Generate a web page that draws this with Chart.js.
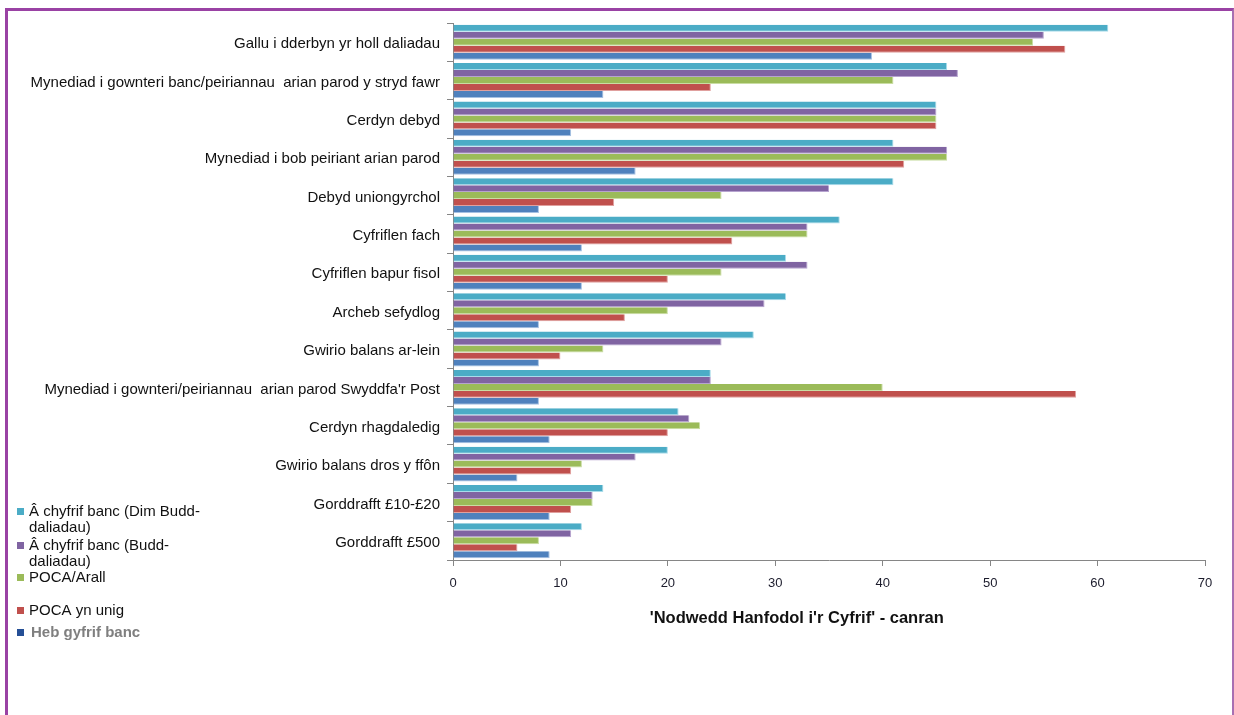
<!DOCTYPE html>
<html>
<head>
<meta charset="utf-8">
<script src="https://cdn.jsdelivr.net/npm/chart.js@4.4.1/dist/chart.umd.min.js"></script>
<style>
  html, body { margin: 0; padding: 0; background: #ffffff; overflow: hidden; }
  #wrap { position: relative; width: 1234px; height: 715px; }
  #frame {
    position: absolute; left: 5px; top: 8px; width: 1229px; height: 740px;
    border-top: 3px solid #9a42a4; border-left: 3px solid #9a42a4; border-right: 2px solid #a86fb2;
    box-sizing: border-box; pointer-events: none;
  }
  canvas { position: absolute; left: 0; top: 0; }
</style>
</head>
<body>
<div id="wrap">
  <canvas id="chart" width="1234" height="715"></canvas>
  <div id="frame"></div>
</div>
<script>
// Account features, top to bottom
const categories = [
  'Gallu i dderbyn yr holl daliadau',
  'Mynediad i gownteri banc/peiriannau  arian parod y stryd fawr',
  'Cerdyn debyd',
  'Mynediad i bob peiriant arian parod',
  'Debyd uniongyrchol',
  'Cyfriflen fach',
  'Cyfriflen bapur fisol',
  'Archeb sefydlog',
  'Gwirio balans ar-lein',
  'Mynediad i gownteri/peiriannau  arian parod Swyddfa\'r Post',
  'Cerdyn rhagdaledig',
  'Gwirio balans dros y ffôn',
  'Gorddrafft £10-£20',
  'Gorddrafft £500'
];

// Percentage saying each feature is essential, per group
const withAccountNoBenefits = [61, 46, 45, 41, 41, 36, 31, 31, 28, 24, 21, 20, 14, 12];
const withAccountBenefits   = [55, 47, 45, 46, 35, 33, 33, 29, 25, 24, 22, 17, 13, 11];
const pocaOther             = [54, 41, 45, 46, 25, 33, 25, 20, 14, 40, 23, 12, 13, 8];
const pocaOnly              = [57, 24, 45, 42, 15, 26, 20, 16, 10, 58, 20, 11, 11, 6];
const noBankAccount         = [39, 14, 11, 17, 8, 12, 12, 8, 8, 8, 9, 6, 9, 9];

const seriesNames = [
  'Â chyfrif banc (Dim Budd-daliadau)',
  'Â chyfrif banc (Budd-daliadau)',
  'POCA/Arall',
  'POCA yn unig',
  'Heb gyfrif banc'
];

// Legend text split the way it wraps in the legend box
const legendLines = [
  ['Â chyfrif banc (Dim Budd-', 'daliadau)'],
  ['Â chyfrif banc (Budd-', 'daliadau)'],
  ['POCA/Arall'],
  ['POCA yn unig'],
  ['Heb gyfrif banc']
];

const xTicks = [0, 10, 20, 30, 40, 50, 60, 70];
const xTitle = '\'Nodwedd Hanfodol i\'r Cyfrif\' - canran';

const colors = ['#4bacc6', '#8064a2', '#9bbb59', '#c0504d', '#4f81bd'];
const edgeColors = ['#a9dcea', '#b6a3cf', '#c9dda3', '#e0a09e', '#a6c1e3'];
const legendSwatch = ['#4bacc6', '#8064a2', '#9bbb59', '#c0504d', '#254f96'];

const seriesValues = [withAccountNoBenefits, withAccountBenefits, pocaOther, pocaOnly, noBankAccount];

const AXIS_GREY = '#868686';
const FONT = '"Liberation Sans", Arial, sans-serif';

// Wrapped legend on the lower left, drawn on the canvas
const sideLegend = {
  id: 'sideLegend',
  afterDraw(chart) {
    const ctx = chart.ctx;
    const rows = [512, 546, 578, 611, 633];
    ctx.save();
    ctx.textBaseline = 'middle';
    ctx.textAlign = 'left';
    chart.data.datasets.forEach((ds, i) => {
      const y = rows[i];
      ctx.fillStyle = legendSwatch[i];
      ctx.fillRect(17, y - 4, 7, 7);
      const last = i === chart.data.datasets.length - 1;
      ctx.font = (last ? 'bold ' : '') + '15px ' + FONT;
      ctx.fillStyle = last ? '#7f7f7f' : '#111111';
      legendLines[i].forEach((line, k) => {
        ctx.fillText(line, last ? 31 : 29, y + k * 16);
      });
    });
    ctx.restore();
  }
};

// Axis title below the value axis
const valueTitle = {
  id: 'valueTitle',
  afterDraw(chart) {
    const ctx = chart.ctx;
    const x = chart.scales.x;
    ctx.save();
    ctx.font = 'bold 16.5px ' + FONT;
    ctx.fillStyle = '#111111';
    ctx.textAlign = 'center';
    ctx.textBaseline = 'middle';
    ctx.fillText(xTitle, x.getPixelForValue(32), 618);
    ctx.restore();
  }
};

new Chart(document.getElementById('chart'), {
  type: 'bar',
  data: {
    labels: categories,
    datasets: seriesNames.map((name, i) => ({
      label: name,
      data: seriesValues[i],
      backgroundColor: colors[i],
      borderColor: edgeColors[i],
      borderWidth: { top: 0, bottom: 1, left: 0, right: 1 },
      borderSkipped: false,
      categoryPercentage: 0.91,
      barPercentage: 1.0
    }))
  },
  options: {
    indexAxis: 'y',
    responsive: false,
    animation: false,
    layout: { padding: { left: 10, top: 23, right: 29, bottom: 0 } },
    plugins: {
      legend: { display: false },
      tooltip: { enabled: false },
      title: { display: false }
    },
    scales: {
      x: {
        type: 'linear',
        min: 0,
        max: 70,
        afterBuildTicks(scale) { scale.ticks = xTicks.map(v => ({ value: v })); },
        afterFit(scale) { scale.height = 155; },
        grid: { drawOnChartArea: false, drawTicks: true, tickLength: 6, color: AXIS_GREY },
        border: { display: true, color: AXIS_GREY, width: 1 },
        ticks: { font: { family: FONT, size: 13 }, color: '#1c1c2c', padding: 10, maxRotation: 0 }
      },
      y: {
        type: 'category',
        offset: true,
        afterFit(scale) { scale.width = 443; },
        grid: { offset: true, drawOnChartArea: false, drawTicks: true, tickLength: 6, color: AXIS_GREY },
        border: { display: true, color: AXIS_GREY, width: 1 },
        ticks: { font: { family: FONT, size: 15 }, color: '#111111', padding: 7, autoSkip: false, labelOffset: 2 }
      }
    }
  },
  plugins: [sideLegend, valueTitle]
});
</script>
</body>
</html>
